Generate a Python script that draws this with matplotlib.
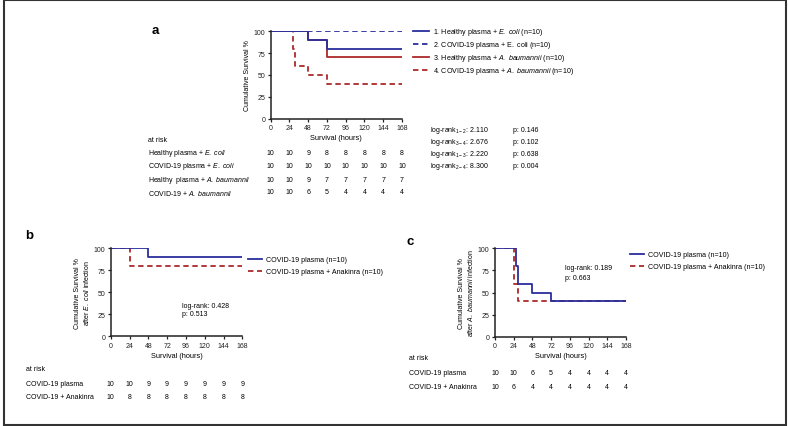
import matplotlib
matplotlib.use("Agg")
import matplotlib.pyplot as plt
from matplotlib.patches import Rectangle
from matplotlib.transforms import blended_transform_factory

plt.rcParams['font.family'] = ['Liberation Sans', 'DejaVu Sans']
plt.rcParams['mathtext.fontset'] = 'custom'
plt.rcParams['mathtext.rm'] = 'Liberation Sans'
plt.rcParams['mathtext.it'] = 'Liberation Sans:italic'

W, H = 788, 427
BLUE = '#2b2e9c'
RED = '#ad2a2a'
FS = 5.0

hours = [0, 24, 48, 72, 96, 120, 144, 168]

# panel a
a_t1 = [0, 48, 72, 168]
a_s1 = [100, 90, 80, 80]
a_t2 = [0, 168]
a_s2 = [100, 100]
a_t3 = [0, 48, 72, 168]
a_s3 = [100, 90, 70, 70]
a_t4 = [0, 28, 31, 48, 72, 168]
a_s4 = [100, 80, 60, 50, 40, 40]
a_labels = [r"1. Healthy plasma + $\mathit{E.\ coli}$ (n=10)",
            r"2. COVID-19 plasma + $\mathrm{E.\ coli}$ (n=10)",
            r"3. Healthy plasma + $\mathit{A.\ baumannii}$ (n=10)",
            r"4. COVID-19 plasma + $\mathit{A.\ baumannii}$ (n=10)"]
a_risk_names = [r"Healthy plasma + $\mathit{E.\ coli}$",
                r"COVID-19 plasma + $\mathit{E.\ coli}$",
                r"Healthy  plasma + $\mathit{A.\ baumannii}$",
                r"COVID-19 + $\mathit{A.\ baumannii}$"]
a_risk = [[10, 10, 9, 8, 8, 8, 8, 8],
          [10, 10, 10, 10, 10, 10, 10, 10],
          [10, 10, 9, 7, 7, 7, 7, 7],
          [10, 10, 6, 5, 4, 4, 4, 4]]
a_logrank = [("1-2", "2.110", "0.146"), ("3-4", "2.676", "0.102"),
             ("1-3", "2.220", "0.638"), ("2-4", "8.300", "0.004")]

# panel b
b_t1 = [0, 48, 168]
b_s1 = [100, 90, 90]
b_t2 = [0, 24, 168]
b_s2 = [100, 80, 80]
b_risk = [[10, 10, 9, 9, 9, 9, 9, 9],
          [10, 8, 8, 8, 8, 8, 8, 8]]

# panel c
c_t1 = [0, 27, 29, 48, 72, 168]
c_s1 = [100, 80, 60, 50, 40, 40]
c_t2 = [0, 24, 29, 168]
c_s2 = [100, 60, 40, 40]
c_risk = [[10, 10, 6, 5, 4, 4, 4, 4],
          [10, 6, 4, 4, 4, 4, 4, 4]]

bc_labels = ["COVID-19 plasma (n=10)", "COVID-19 plasma + Anakinra (n=10)"]
bc_risk_names = ["COVID-19 plasma", "COVID-19 + Anakinra"]

fig = plt.figure(figsize=(W / 100, H / 100), dpi=100)


def fx(x):
    return x / W


def fy(y):
    return 1 - y / H


def make_ax(x0, x1, y_top, y_bot):
    ax = fig.add_axes([fx(x0), fy(y_bot), fx(x1 - x0), (y_bot - y_top) / H])
    ax.set_xlim(0, 168)
    ax.set_ylim(0, 100)
    ax.set_xticks(hours)
    ax.set_yticks([0, 25, 50, 75, 100])
    for s in ['top', 'right']:
        ax.spines[s].set_visible(False)
    for s in ['left', 'bottom']:
        ax.spines[s].set_linewidth(1.1)
        ax.spines[s].set_color('#222222')
    ax.tick_params(length=2.5, width=0.9, labelsize=FS, pad=1.5, colors='#222222')
    ax.set_xlabel("Survival (hours)", fontsize=FS + 0.3, labelpad=2)
    return ax


def risk_table(ax, names, rows, x_name, y_head, y_rows):
    fig.text(fx(x_name), fy(y_head), "at risk", fontsize=FS, va='center')
    tr = blended_transform_factory(ax.transData, fig.transFigure)
    for name, vals, yy in zip(names, rows, y_rows):
        fig.text(fx(x_name), fy(yy), name, fontsize=FS, va='center')
        for h, v in zip(hours, vals):
            ax.text(h, fy(yy), str(v), transform=tr, fontsize=FS,
                    ha='center', va='center', clip_on=False)


# ---- a ----
ax = make_ax(270.7, 402, 32.3, 119.5)
ax.step(a_t3, a_s3, where='post', color=RED, lw=1.3, label=a_labels[2])
ax.step(a_t4, a_s4, where='post', color=RED, lw=1.3, ls=(0, (3, 2)), label=a_labels[3])
ax.step(a_t1, a_s1, where='post', color=BLUE, lw=1.3, label=a_labels[0])
ax.step(a_t2, a_s2, where='post', color=BLUE, lw=1.3, ls=(0, (3, 2)), label=a_labels[1])
ax.set_ylabel("Cumulative Survival %", fontsize=FS, labelpad=2)
hs, ls = ax.get_legend_handles_labels()
order = [2, 3, 0, 1]
ax.legend([hs[i] for i in order], [ls[i] for i in order], loc='upper left',
          bbox_to_anchor=(fx(413), fy(27.5)), bbox_transform=fig.transFigure,
          frameon=False, fontsize=FS + 0.1, handlelength=2.3, handletextpad=0.5,
          labelspacing=0.28, borderpad=0, borderaxespad=0)
fig.text(fx(155), fy(31), "a", fontsize=9.5, fontweight='bold', va='center', ha='center')
risk_table(ax, a_risk_names, a_risk, 148, 141, [154, 167, 180, 193])
for (sub, val, p), yy in zip(a_logrank, [131, 142.5, 154.5, 166.7]):
    fig.text(fx(430), fy(yy), r"log-rank$_{\mathrm{%s}}$: %s" % (sub, val),
             fontsize=FS, va='center')
    fig.text(fx(513), fy(yy), "p: " + p, fontsize=FS, va='center')

# ---- b ----
ax = make_ax(110.7, 242.3, 249.3, 337.3)
ax.step(b_t2, b_s2, where='post', color=RED, lw=1.3, ls=(0, (3, 2)), label=bc_labels[1])
ax.step(b_t1, b_s1, where='post', color=BLUE, lw=1.3, label=bc_labels[0])
ax.set_ylabel("Cumulative Survival %\nafter $\\mathit{E.\\ coli}$ infection",
              fontsize=FS, labelpad=2, linespacing=1.1)
hs, ls = ax.get_legend_handles_labels()
ax.legend(hs[::-1], ls[::-1], loc='upper left',
          bbox_to_anchor=(fx(248), fy(257)), bbox_transform=fig.transFigure,
          frameon=False, fontsize=FS + 0.1, handlelength=2.0, handletextpad=0.6,
          labelspacing=0.75, borderpad=0, borderaxespad=0)
fig.text(fx(29), fy(236), "b", fontsize=9.5, fontweight='bold', va='center', ha='center')
fig.text(fx(181.7), fy(306), "log-rank: 0.428", fontsize=FS, va='center')
fig.text(fx(181.7), fy(315), "p: 0.513", fontsize=FS, va='center')
risk_table(ax, bc_risk_names, b_risk, 25.7, 370, [384.7, 398])

# ---- c ----
ax = make_ax(495, 626, 249.3, 337.7)
ax.step(c_t2, c_s2, where='post', color=RED, lw=1.3, ls=(0, (3, 2)), label=bc_labels[1])
ax.step(c_t1, c_s1, where='post', color=BLUE, lw=1.3, label=bc_labels[0])
ax.set_ylabel("Cumulative Survival %\nafter $\\mathit{A.\\ baumannii}$ infection",
              fontsize=FS, labelpad=2, linespacing=1.1)
hs, ls = ax.get_legend_handles_labels()
ax.legend(hs[::-1], ls[::-1], loc='upper left',
          bbox_to_anchor=(fx(630), fy(252)), bbox_transform=fig.transFigure,
          frameon=False, fontsize=FS + 0.1, handlelength=2.0, handletextpad=0.6,
          labelspacing=0.75, borderpad=0, borderaxespad=0)
fig.text(fx(410), fy(241.7), "c", fontsize=9.5, fontweight='bold', va='center', ha='center')
fig.text(fx(565), fy(268.3), "log-rank: 0.189", fontsize=FS, va='center')
fig.text(fx(565), fy(278.3), "p: 0.663", fontsize=FS, va='center')
risk_table(ax, bc_risk_names, c_risk, 409.3, 359, [374, 387.3])

# outer frame
fig.patches.append(Rectangle((fx(4), fy(425.5)), fx(782), (424.5) / H,
                             transform=fig.transFigure, fill=False,
                             edgecolor='#333333', lw=1.5))

fig.savefig("out.png", dpi=100)
